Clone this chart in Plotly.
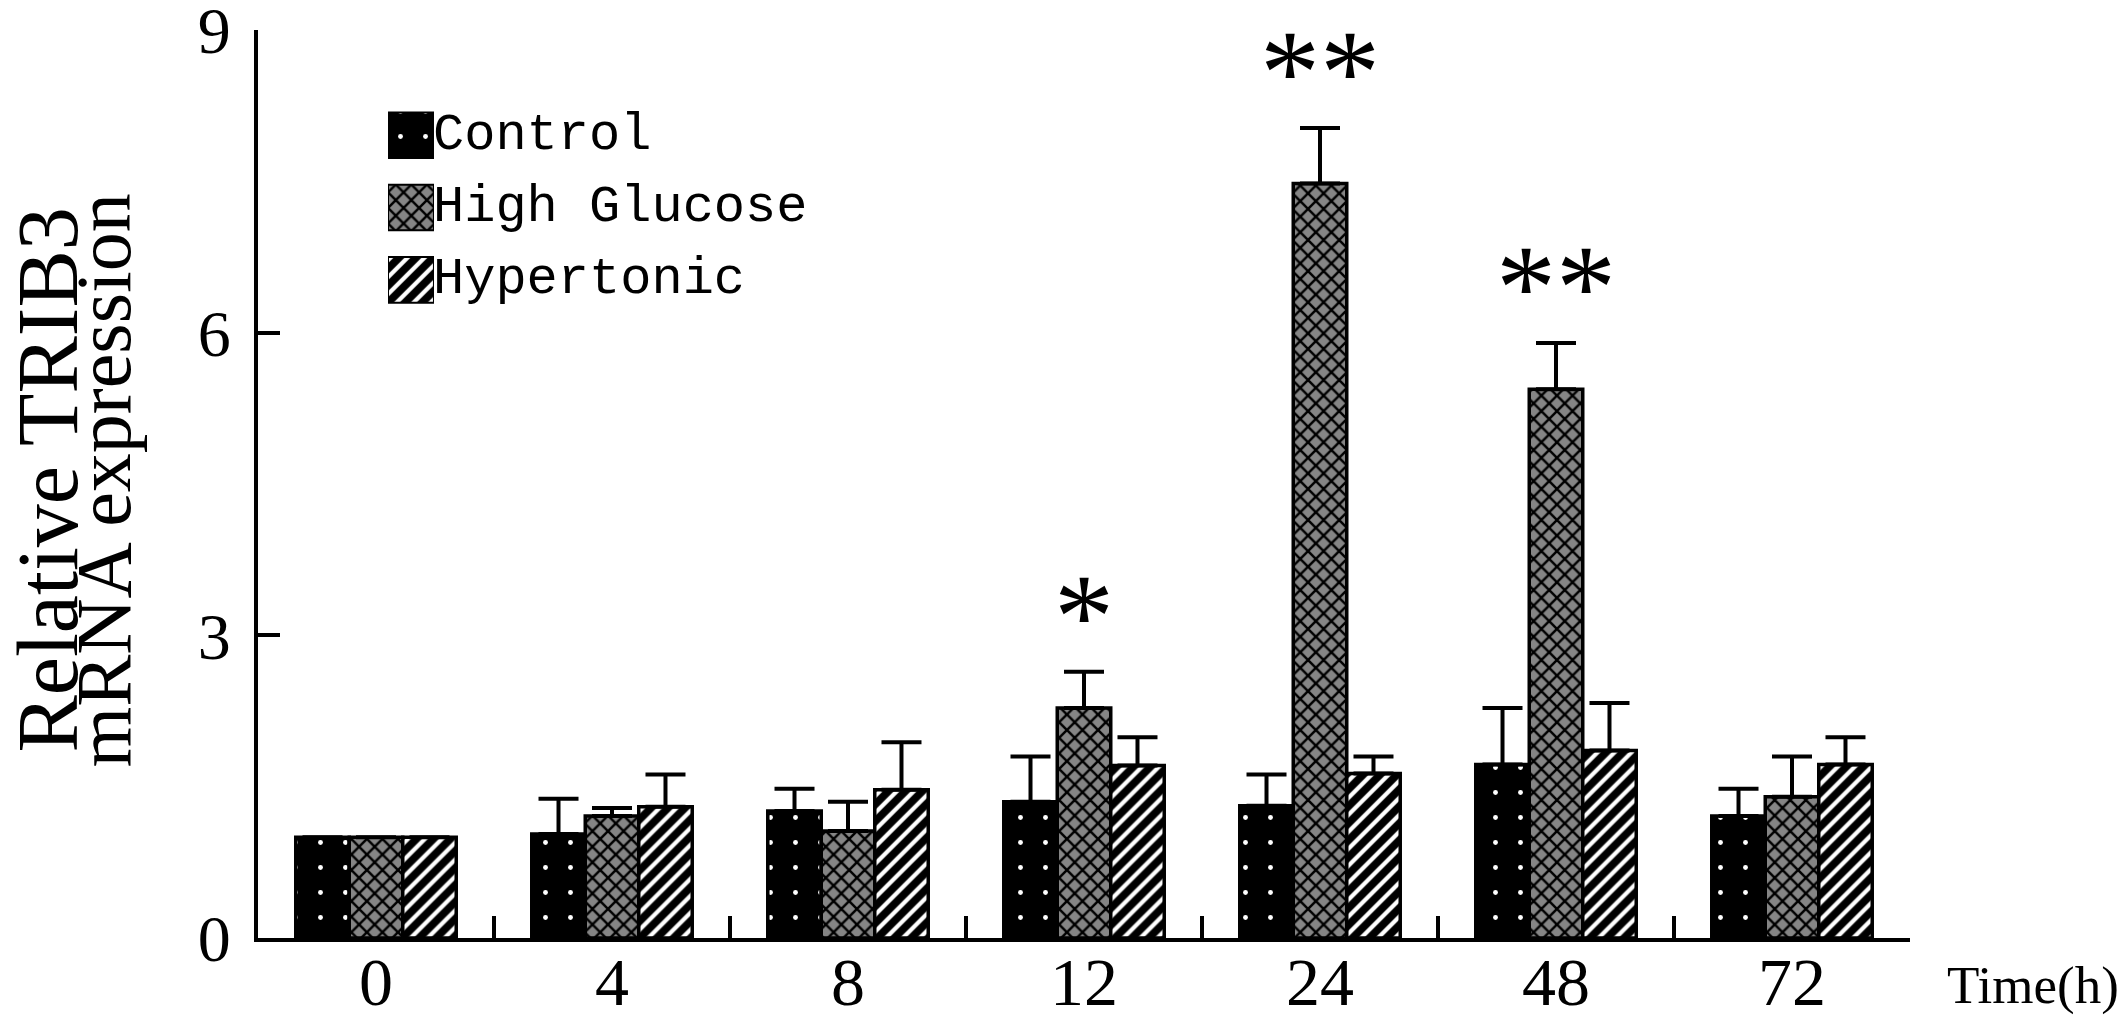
import plotly.graph_objects as go

# ---- data ----
categories = ["0", "4", "8", "12", "24", "48", "72"]
series_names = ["Control", "High Glucose", "Hypertonic"]
control = [1.0, 1.03, 1.26, 1.35, 1.31, 1.72, 1.21]
control_err = [None, 0.35, 0.22, 0.45, 0.31, 0.56, 0.27]
high_glucose = [1.0, 1.21, 1.06, 2.28, 7.48, 5.44, 1.40]
high_glucose_err = [None, 0.08, 0.29, 0.36, 0.55, 0.46, 0.40]
hypertonic = [1.0, 1.30, 1.47, 1.71, 1.63, 1.86, 1.72]
hypertonic_err = [None, 0.32, 0.47, 0.28, 0.17, 0.47, 0.27]
significance = ["", "", "", "*", "**", "**", ""]
y_ticks = [0, 3, 6, 9]

# ---- styles ----
SERIF = "Liberation Serif, Times New Roman, serif"
MONO = "Liberation Mono, Courier New, monospace"
patterns = [
    dict(shape=".", bgcolor="black", fgcolor="white", size=25, solidity=0.03, fillmode="replace"),
    dict(shape="x", bgcolor="#858585", fgcolor="black", size=11, solidity=0.4, fillmode="replace"),
    dict(shape="/", bgcolor="white", fgcolor="black", size=12, solidity=0.65, fillmode="replace"),
]
values = [control, high_glucose, hypertonic]
errors = [control_err, high_glucose_err, hypertonic_err]

fig = go.Figure()
for name, vals, errs, pat in zip(series_names, values, errors, patterns):
    fig.add_trace(go.Bar(
        x=categories, y=vals, name=name,
        marker=dict(color=pat["bgcolor"], pattern=pat, line=dict(color="black", width=3.5)),
        error_y=dict(type="data", symmetric=False, array=errs,
                     arrayminus=[0 if e is not None else None for e in errs],
                     color="black", thickness=4, width=20),
        showlegend=False,
    ))

# custom legend swatches (patterned squares) on a small helper axis
for name, pat in zip(series_names, patterns):
    fig.add_trace(go.Bar(
        x=[1], y=[name], orientation="h", width=0.63,
        marker=dict(color=pat["bgcolor"], pattern=pat, line=dict(color="black", width=2)),
        xaxis="x2", yaxis="y2", showlegend=False, hoverinfo="skip",
    ))
    fig.add_annotation(x=1, y=name, xref="x2", yref="y2", text=name,
                       xanchor="left", yanchor="middle", xshift=-3, showarrow=False,
                       font=dict(family=MONO, size=52, color="black"))

# significance marks above the High Glucose error bars (x given as category index)
for i, (v, e, sig) in enumerate(zip(high_glucose, high_glucose_err, significance)):
    if sig:
        fig.add_annotation(x=i, y=v + (e or 0) + 0.68, xref="x", yref="y", text=sig,
                           showarrow=False, xanchor="center", yanchor="middle",
                           yshift=-13,
                           font=dict(family=SERIF, size=120, color="black"))

# axis title pieces
fig.add_annotation(x=-0.1270, y=0.504, xref="paper", yref="paper", text="Relative TRIB3",
                   textangle=-90, showarrow=False, xanchor="center", yanchor="middle",
                   font=dict(family=SERIF, size=86, color="black"))
fig.add_annotation(x=-0.0938, y=0.504, xref="paper", yref="paper", text="mRNA expression",
                   textangle=-90, showarrow=False, xanchor="center", yanchor="middle",
                   font=dict(family=SERIF, size=78, color="black"))
fig.add_annotation(x=1.0745, y=-0.052, xref="paper", yref="paper", text="Time(h)",
                   showarrow=False, xanchor="center", yanchor="middle",
                   font=dict(family=SERIF, size=53, color="black"))

fig.update_layout(
    width=2126, height=1020,
    margin=dict(l=258, r=216, t=30, b=82, autoexpand=False),
    paper_bgcolor="white", plot_bgcolor="white",
    barmode="group", bargap=0.32, bargroupgap=0,
    xaxis=dict(
        type="category", range=[-0.5, 6.5], showline=True, linecolor="black", linewidth=4,
        ticks="inside", tickson="boundaries", ticklen=22, tickwidth=4, tickcolor="black",
        showgrid=False, zeroline=False, ticklabelstandoff=-19, automargin=False,
        ticklabeloverflow="allow",
        tickfont=dict(family=SERIF, size=68, color="black"),
    ),
    yaxis=dict(
        range=[0, 9.002], tickvals=y_ticks, showline=True, linecolor="black", linewidth=4,
        ticks="inside", ticklen=22, tickwidth=4, tickcolor="black", automargin=False,
        showgrid=False, zeroline=False, ticklabelstandoff=10, ticklabeloverflow="allow",
        tickfont=dict(family=SERIF, size=66, color="black"),
    ),
    xaxis2=dict(domain=[0.0787, 0.1065], range=[0, 1], anchor="y2", visible=False,
                fixedrange=True, automargin=False),
    yaxis2=dict(domain=[0.685, 0.924], type="category", range=[2.5, -0.5], anchor="x2",
                visible=False, fixedrange=True, automargin=False),
)

fig.write_html("out.html", config={"displayModeBar": False},
               post_script="document.body.style.margin='0';document.body.style.overflow='hidden';")
